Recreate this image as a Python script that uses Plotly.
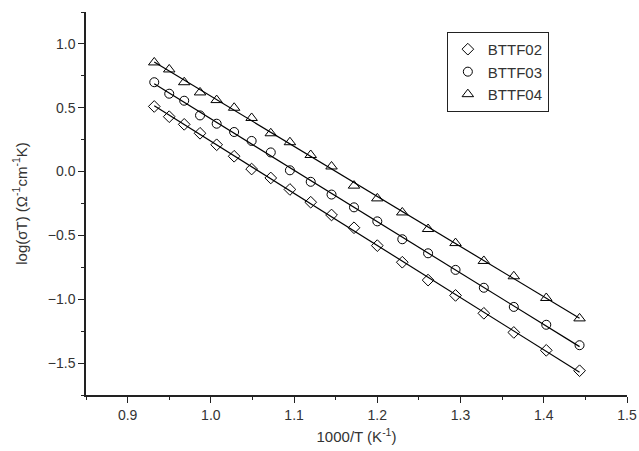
import numpy as np
import plotly.graph_objects as go

# Inverse temperature, 1000/T (K^-1)
inv_T = [0.932, 0.950, 0.968, 0.987, 1.007, 1.028, 1.049, 1.072, 1.095, 1.120,
         1.145, 1.172, 1.200, 1.230, 1.261, 1.294, 1.328, 1.364, 1.403, 1.443]

# log(sigma*T) for each sample
bttf02 = [0.51, 0.43, 0.37, 0.30, 0.21, 0.12, 0.02, -0.05, -0.14, -0.24,
          -0.34, -0.44, -0.58, -0.71, -0.85, -0.97, -1.11, -1.26, -1.40, -1.56]
bttf03 = [0.70, 0.61, 0.555, 0.44, 0.375, 0.31, 0.24, 0.15, 0.01, -0.08,
          -0.18, -0.28, -0.39, -0.53, -0.64, -0.77, -0.91, -1.06, -1.20, -1.36]
bttf04 = [0.855, 0.80, 0.70, 0.62, 0.56, 0.50, 0.42, 0.30, 0.23, 0.13,
          0.04, -0.11, -0.21, -0.32, -0.45, -0.56, -0.70, -0.82, -0.99, -1.15]

names = ["BTTF02", "BTTF03", "BTTF04"]
symbols = ["diamond-open", "circle-open", "triangle-up-open"]
sizes = [9, 9, 10]

FONT = "Liberation Sans, Arial"

fig = go.Figure()
x = np.array(inv_T)
for name, ys, sym, sz in zip(names, [bttf02, bttf03, bttf04], symbols, sizes):
    # linear (Arrhenius) fit
    k, b = np.polyfit(x, np.array(ys), 1)
    xf = np.array([x.min(), x.max()])
    fig.add_trace(go.Scatter(x=xf, y=k * xf + b, mode="lines",
                             line=dict(color="black", width=1.2),
                             showlegend=False, hoverinfo="skip"))
    fig.add_trace(go.Scatter(x=inv_T, y=ys, mode="markers", name=name,
                             marker=dict(symbol=sym, size=sz, color="black",
                                         line=dict(color="black", width=1))))

axis_common = dict(
    showline=True, linecolor="#222", linewidth=1.5, mirror=False,
    ticks="outside", ticklen=6, tickwidth=1.2, tickcolor="#222",
    showgrid=False, zeroline=False, automargin=False,
    tickfont=dict(family=FONT, size=14, color="#333"),
)

fig.update_xaxes(
    range=[0.85, 1.5], tick0=0.9, dtick=0.1, tickformat=".1f",
    minor=dict(ticks="outside", ticklen=3, tickwidth=1.2, tickcolor="#222", dtick=0.05, tick0=0.85),
    title=dict(text="1000/T (K<sup>-1</sup>)", standoff=10,
               font=dict(family=FONT, size=15, color="#333")),
    **axis_common,
)
fig.update_yaxes(
    range=[-1.75, 1.25], tick0=-1.5, dtick=0.5, tickformat=".1f",
    minor=dict(ticks="outside", ticklen=3, tickwidth=1.2, tickcolor="#222", dtick=0.25, tick0=-1.75),
    title=dict(text="log(σT) (Ω<sup>-1</sup>cm<sup>-1</sup>K)", standoff=17,
               font=dict(family=FONT, size=15, color="#333")),
    **axis_common,
)

fig.update_layout(
    width=639, height=451,
    margin=dict(l=86, r=12, t=12, b=56),
    plot_bgcolor="white", paper_bgcolor="white",
    legend=dict(x=0.667, y=0.948, xanchor="left", yanchor="top",
                bordercolor="#222", borderwidth=1, bgcolor="white",
                font=dict(family=FONT, size=15, color="#333"),
                itemwidth=30, tracegroupgap=0),
)

fig.write_html("out.html")
